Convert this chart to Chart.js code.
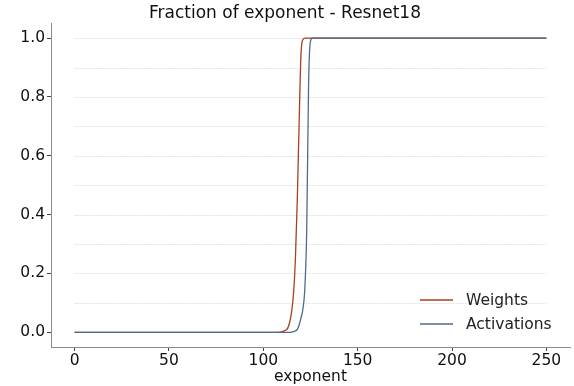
<!DOCTYPE html>
<html>
<head>
<meta charset="utf-8">
<script src="https://cdn.jsdelivr.net/npm/chart.js@4.4.1/dist/chart.umd.min.js"></script>
<style>
  html, body { margin: 0; padding: 0; background: #fff; }
  #caja { width: 574px; height: 386px; }
</style>
</head>
<body>
<div id="caja"><canvas id="grafico"></canvas></div>
<script>
// datos (fraccion acumulada por exponente)
const exponentesPesos = [0, 108, 110, 112, 113, 114, 115, 116, 117, 118, 119, 120, 121, 122, 250];
const fraccionPesos = [0, 0, 0.002, 0.008, 0.015, 0.035, 0.07, 0.13, 0.25, 0.45, 0.72, 0.95, 0.995, 1, 1];
const exponentesActivaciones = [0, 114, 116, 118, 119, 120, 121, 122, 123, 124, 125, 126, 250];
const fraccionActivaciones = [0, 0, 0.002, 0.01, 0.025, 0.05, 0.08, 0.15, 0.35, 0.85, 0.99, 1, 1];
const ticksX = [0, 50, 100, 150, 200, 250];
const ticksY = [0, 0.2, 0.4, 0.6, 0.8, 1.0];
const lineasGuia = [0.1, 0.2, 0.3, 0.4, 0.5, 0.6, 0.7, 0.8, 0.9, 1.0];
const nombres = ['Weights', 'Activations'];

const colorPesos = '#a8401c';
const colorActivaciones = '#4e6a8c';
const fuente = "'DejaVu Sans', sans-serif";

function puntos(xs, ys) {
    return xs.map((x, i) => ({ x: x, y: ys[i] }));
}

// lineas horizontales punteadas solo sobre el rango de datos
const guias = {
    id: 'guias',
    beforeDatasetsDraw(chart) {
        const { ctx, scales: { x, y } } = chart;
        ctx.save();
        ctx.strokeStyle = '#dcdcdc';
        ctx.lineWidth = 0.8;
        ctx.setLineDash([2, 1]);
        const x0 = x.getPixelForValue(exponentesPesos[0]);
        const x1 = x.getPixelForValue(exponentesPesos[exponentesPesos.length - 1]);
        lineasGuia.forEach(v => {
            const py = Math.round(y.getPixelForValue(v)) + 0.5;
            ctx.beginPath();
            ctx.moveTo(x0, py);
            ctx.lineTo(x1, py);
            ctx.stroke();
        });
        ctx.restore();
    }
};

// leyenda dentro del area, abajo a la derecha
const leyenda = {
    id: 'leyenda',
    afterDraw(chart) {
        const { ctx, chartArea } = chart;
        ctx.save();
        ctx.font = '15.5px ' + fuente;
        ctx.textBaseline = 'middle';
        ctx.fillStyle = '#222';
        chart.data.datasets.forEach((ds, i) => {
            const py = chartArea.bottom - 47 + i * 24;
            ctx.strokeStyle = ds.borderColor;
            ctx.lineWidth = 1.4;
            ctx.beginPath();
            ctx.moveTo(chartArea.right - 150, py);
            ctx.lineTo(chartArea.right - 117, py);
            ctx.stroke();
            ctx.fillText(ds.label, chartArea.right - 104, py + 1);
        });
        ctx.restore();
    }
};

new Chart(document.getElementById('grafico'), {
    type: 'line',
    data: {
        datasets: [{
            label: nombres[0],
            data: puntos(exponentesPesos, fraccionPesos),
            borderColor: colorPesos,
            borderWidth: 1.3,
            pointRadius: 0,
            cubicInterpolationMode: 'monotone',
            fill: false,
            order: 1
        }, {
            label: nombres[1],
            data: puntos(exponentesActivaciones, fraccionActivaciones),
            borderColor: colorActivaciones,
            borderWidth: 1.3,
            pointRadius: 0,
            cubicInterpolationMode: 'monotone',
            fill: false,
            order: 0
        }]
    },
    options: {
        responsive: true,
        maintainAspectRatio: false,
        animation: false,
        layout: { padding: { left: 0, right: 4, top: 0, bottom: 0 } },
        plugins: {
            legend: { display: false },
            tooltip: { enabled: false },
            title: {
                display: true,
                text: 'Fraction of exponent - Resnet18',
                color: '#111',
                font: { family: fuente, size: 17, weight: 'normal' },
                padding: { top: 3, bottom: 0 }
            }
        },
        scales: {
            x: {
                type: 'linear',
                min: -12.5,
                max: 262.5,
                afterBuildTicks: s => { s.ticks = ticksX.map(v => ({ value: v })); },
                afterFit: s => { s.height = 39; },
                grid: { drawOnChartArea: false, tickLength: 4, color: '#444' },
                border: { color: '#8c8c8c', width: 1 },
                ticks: {
                    color: '#111',
                    padding: 1,
                    maxRotation: 0,
                    font: { family: fuente, size: 15.5 }
                },
                title: {
                    display: true,
                    text: 'exponent',
                    color: '#111',
                    font: { family: fuente, size: 15.5 },
                    padding: { top: 0, bottom: 0 }
                }
            },
            y: {
                min: -0.05,
                max: 1.05,
                afterBuildTicks: s => { s.ticks = ticksY.map(v => ({ value: v })); },
                afterFit: s => { s.width = 51; },
                grid: { drawOnChartArea: false, tickLength: 4, color: '#444' },
                border: { color: '#8c8c8c', width: 1 },
                ticks: {
                    color: '#111',
                    padding: 2,
                    font: { family: fuente, size: 15.5 },
                    callback: v => v.toFixed(1)
                }
            }
        }
    },
    plugins: [guias, leyenda]
});
</script>
</body>
</html>
